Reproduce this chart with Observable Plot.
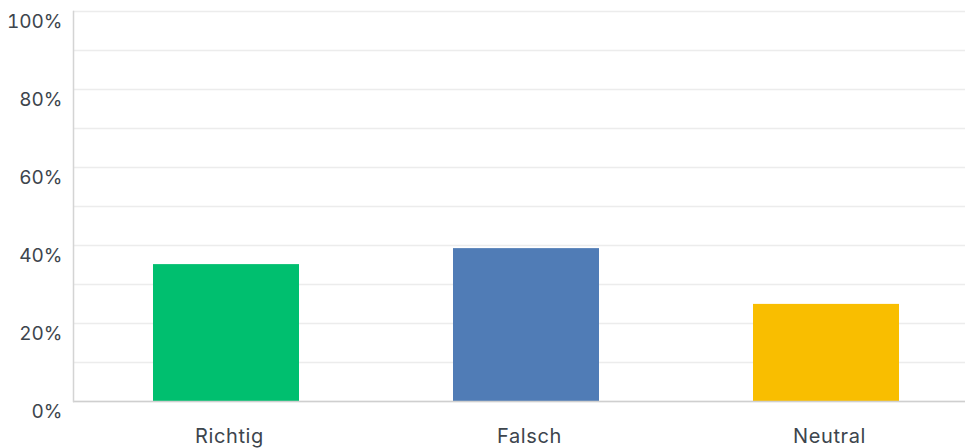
<!DOCTYPE html>
<html>
<head>
<meta charset="utf-8">
<script src="https://cdn.jsdelivr.net/npm/d3@7"></script>
<script src="https://cdn.jsdelivr.net/npm/@observablehq/plot@0.6"></script>
<style>
  html, body { margin: 0; padding: 0; background: #fff; }
  #chart { width: 965px; height: 448px; }
  g[aria-label="x-axis tick label"] text { letter-spacing: 0.6px; }
</style>
</head>
<body>
<div id="chart"></div>
<script>
const categories = ["Richtig", "Falsch", "Neutral"];
const values = [35.1, 39.2, 24.9];
const colors = ["#00bf6f", "#507cb6", "#f9be00"];
const yTicks = [0, 20, 40, 60, 80, 100];
const gridTicks = [0, 10, 20, 30, 40, 50, 60, 70, 80, 90, 100];

const data = categories.map((c, i) => ({category: c, value: values[i]}));

const textColor = "#3d454d";
const font = "Inter, 'Noto Sans', sans-serif";

const chart = Plot.plot({
  width: 965,
  height: 448,
  marginLeft: 73,
  marginRight: 0,
  marginTop: 11,
  marginBottom: 47,
  style: {fontFamily: font, background: "#fff", color: textColor},
  x: {domain: categories, range: [75, 976.5], paddingInner: 0.514, paddingOuter: 0.257, label: null},
  y: {domain: [0, 100], label: null},
  color: {domain: categories, range: colors},
  marks: [
    Plot.gridY(gridTicks, {stroke: "#ececec", strokeOpacity: 1, strokeWidth: 1.5}),
    Plot.barY(data, {x: "category", y: "value", fill: "category"}),
    Plot.ruleY([0], {stroke: "#cfcfcf", strokeWidth: 1.5}),
    Plot.frame({anchor: "left", stroke: "#d4d4d4", strokeWidth: 1.5}),
    Plot.axisY(yTicks, {tickSize: 0, tickPadding: 11, dy: 10, tickFormat: d => d + "%", fontSize: 19, fill: textColor}),
    Plot.axisX({tickSize: 0, tickPadding: 27, dx: 3, fontSize: 20, fill: textColor})
  ]
});
document.getElementById("chart").appendChild(chart);
</script>
</body>
</html>
